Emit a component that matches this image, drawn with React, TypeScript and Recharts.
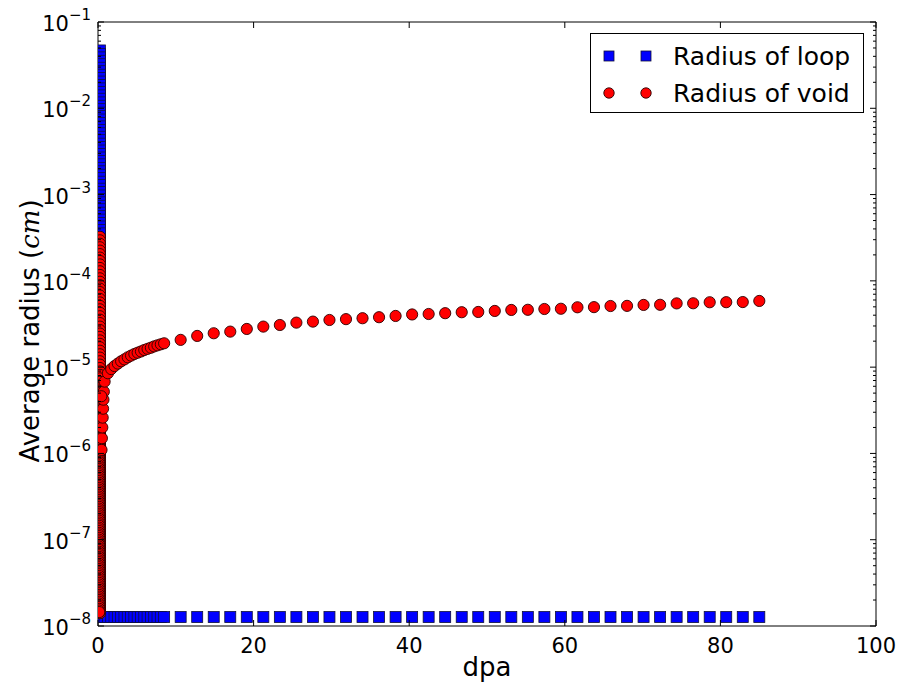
import React from 'react';
import { ScatterChart, Scatter, XAxis, YAxis, Legend, Label } from 'recharts';

// ---- data -------------------------------------------------------------

// Start-up transient recorded at the very beginning of irradiation (dpa ~ 0)
const startDpa = [0.25, 0.15];

const loopColumnRadius = [
  4.68e-2, 4.27e-2, 3.89e-2, 3.55e-2, 3.24e-2, 2.95e-2, 2.69e-2, 2.45e-2, 2.24e-2, 2.04e-2, 1.86e-2, 1.70e-2, 1.55e-2, 1.41e-2, 1.29e-2, 1.17e-2, 1.07e-2,
  9.77e-3, 8.91e-3, 8.13e-3, 7.41e-3, 6.76e-3, 6.17e-3, 5.62e-3, 5.13e-3, 4.68e-3, 4.27e-3, 3.89e-3, 3.55e-3, 3.24e-3, 2.95e-3, 2.69e-3, 2.45e-3, 2.24e-3, 2.04e-3, 1.86e-3, 1.70e-3, 1.55e-3, 1.41e-3, 1.29e-3, 1.17e-3, 1.07e-3,
  9.77e-4, 8.91e-4, 8.13e-4, 7.41e-4, 6.76e-4, 6.17e-4, 5.62e-4, 5.13e-4, 4.68e-4, 4.27e-4, 3.89e-4, 3.55e-4,
  2.51e-4, 2.00e-4, 1.58e-4, 1.26e-4, 1.00e-4,
  7.94e-5, 6.31e-5, 5.01e-5, 3.98e-5, 3.16e-5, 2.51e-5, 2.00e-5, 1.58e-5, 1.26e-5, 1.00e-5,
  7.94e-6, 6.31e-6, 5.01e-6, 3.98e-6, 3.16e-6, 2.51e-6, 2.00e-6, 1.58e-6, 1.26e-6, 1.00e-6,
  7.94e-7, 6.31e-7, 5.01e-7, 3.98e-7, 3.16e-7, 2.51e-7, 2.00e-7, 1.58e-7, 1.26e-7, 1.00e-7,
  7.94e-8, 6.31e-8, 5.01e-8, 3.98e-8, 3.16e-8, 2.51e-8, 2.00e-8, 1.58e-8,
];

const voidColumnRadius = [
  3.24e-4, 2.95e-4, 2.69e-4, 2.45e-4, 2.24e-4, 2.04e-4, 1.86e-4, 1.70e-4, 1.55e-4, 1.41e-4, 1.29e-4, 1.17e-4, 1.07e-4,
  9.77e-5, 8.91e-5, 8.13e-5, 7.41e-5, 6.76e-5, 6.17e-5, 5.62e-5, 5.13e-5, 4.68e-5, 4.27e-5, 3.89e-5, 3.55e-5, 3.24e-5, 2.95e-5, 2.69e-5, 2.45e-5, 2.24e-5, 2.04e-5, 1.86e-5, 1.70e-5, 1.55e-5, 1.41e-5, 1.29e-5, 1.17e-5, 1.07e-5,
  9.77e-6, 8.91e-6, 8.13e-6, 7.41e-6, 6.76e-6, 6.17e-6, 5.62e-6, 5.13e-6, 4.68e-6, 4.27e-6, 3.89e-6, 3.55e-6, 3.24e-6, 2.95e-6, 2.69e-6, 2.45e-6, 2.24e-6, 2.04e-6, 1.86e-6, 1.70e-6, 1.55e-6, 1.41e-6, 1.29e-6, 1.17e-6, 1.07e-6,
  9.77e-7, 8.91e-7, 8.13e-7, 7.41e-7, 6.76e-7, 6.17e-7, 5.62e-7, 5.13e-7, 4.68e-7, 4.27e-7, 3.89e-7, 3.55e-7, 3.24e-7, 2.95e-7, 2.69e-7, 2.45e-7, 2.24e-7, 2.04e-7, 1.86e-7, 1.70e-7, 1.55e-7, 1.41e-7, 1.29e-7, 1.17e-7, 1.07e-7,
  9.77e-8, 8.91e-8, 8.13e-8, 7.41e-8, 6.76e-8, 6.17e-8, 5.62e-8, 5.13e-8, 4.68e-8, 4.27e-8, 3.89e-8, 3.55e-8, 3.24e-8, 2.95e-8, 2.69e-8, 2.45e-8, 2.24e-8, 2.04e-8, 1.86e-8, 1.70e-8, 1.55e-8, 1.41e-8,
];

// Further passes through the lower part of the start-up transient
const voidColumnLowerRadius = [
  5.89e-6, 5.37e-6, 4.90e-6, 4.47e-6, 4.07e-6, 3.72e-6, 3.39e-6, 3.09e-6, 2.82e-6, 2.57e-6, 2.34e-6, 2.14e-6, 1.95e-6, 1.78e-6, 1.62e-6, 1.48e-6, 1.35e-6, 1.23e-6, 1.12e-6, 1.02e-6,
  9.33e-7, 8.51e-7, 7.76e-7, 7.08e-7, 6.46e-7, 5.89e-7, 5.37e-7, 4.90e-7, 4.47e-7, 4.07e-7, 3.72e-7, 3.39e-7, 3.09e-7, 2.82e-7, 2.57e-7, 2.34e-7, 2.14e-7, 1.95e-7, 1.78e-7, 1.62e-7, 1.48e-7, 1.35e-7, 1.23e-7, 1.12e-7, 1.02e-7,
  9.33e-8, 8.51e-8, 7.76e-8, 7.08e-8, 6.46e-8, 5.89e-8, 5.37e-8, 4.90e-8, 4.47e-8, 4.07e-8, 3.72e-8, 3.39e-8, 3.09e-8, 2.82e-8, 2.57e-8, 2.34e-8, 2.14e-8, 1.95e-8, 1.78e-8, 1.62e-8, 1.48e-8,
];

const voidColumnLateRadius = [
  5.75e-6, 5.50e-6, 5.25e-6, 5.01e-6, 4.79e-6, 4.57e-6, 4.37e-6, 4.17e-6, 3.98e-6, 3.80e-6, 3.63e-6, 3.47e-6, 3.31e-6, 3.16e-6, 3.02e-6, 2.88e-6, 2.75e-6, 2.63e-6, 2.51e-6, 2.40e-6,
  2.29e-6, 2.19e-6, 2.09e-6, 2.00e-6, 1.91e-6, 1.82e-6, 1.74e-6, 1.66e-6, 1.58e-6, 1.51e-6, 1.45e-6, 1.38e-6, 1.32e-6, 1.26e-6, 1.20e-6, 1.15e-6, 1.10e-6, 1.05e-6, 1.00e-6,
  9.55e-7, 9.12e-7, 8.71e-7, 8.32e-7, 7.94e-7, 7.59e-7, 7.24e-7, 6.92e-7, 6.61e-7, 6.31e-7, 6.03e-7, 5.75e-7, 5.50e-7, 5.25e-7, 5.01e-7, 4.79e-7, 4.57e-7, 4.37e-7, 4.17e-7, 3.98e-7,
  3.80e-7, 3.63e-7, 3.47e-7, 3.31e-7, 3.16e-7, 3.02e-7, 2.88e-7, 2.75e-7, 2.63e-7, 2.51e-7, 2.40e-7, 2.29e-7, 2.19e-7, 2.09e-7, 2.00e-7, 1.91e-7, 1.82e-7, 1.74e-7, 1.66e-7, 1.58e-7,
  1.51e-7, 1.45e-7, 1.38e-7, 1.32e-7, 1.26e-7, 1.20e-7, 1.15e-7, 1.10e-7, 1.05e-7, 1.00e-7,
  9.55e-8, 9.12e-8, 8.71e-8, 8.32e-8, 7.94e-8, 7.59e-8, 7.24e-8, 6.92e-8, 6.61e-8, 6.31e-8, 6.03e-8, 5.75e-8, 5.50e-8, 5.25e-8, 5.01e-8, 4.79e-8, 4.57e-8, 4.37e-8, 4.17e-8, 3.98e-8,
  3.80e-8, 3.63e-8, 3.47e-8, 3.31e-8, 3.16e-8, 3.02e-8, 2.88e-8, 2.75e-8, 2.63e-8, 2.51e-8, 2.40e-8, 2.29e-8, 2.19e-8, 2.09e-8, 2.00e-8, 1.91e-8, 1.82e-8, 1.74e-8, 1.66e-8, 1.58e-8,
  1.51e-8, 1.45e-8,
];

// Onset of void growth just after start-up
const voidOnsetDpa = [0.45, 0.5, 0.55, 0.6, 0.65, 0.7, 0.75];
const voidOnsetRadius = [1.1e-6, 1.5e-6, 2.0e-6, 2.6e-6, 3.3e-6, 4.2e-6, 5.2e-6];

// Early, finely sampled output (0 - 8.5 dpa)
const fineDpa = [
  0.425, 0.85, 1.275, 1.7, 2.125, 2.55, 2.975, 3.4, 3.825, 4.25,
  4.675, 5.1, 5.525, 5.95, 6.375, 6.8, 7.225, 7.65, 8.075,
];
const loopFineRadius = [
  1.27e-8, 1.27e-8, 1.27e-8, 1.27e-8, 1.27e-8, 1.27e-8, 1.27e-8, 1.27e-8, 1.27e-8, 1.27e-8,
  1.27e-8, 1.27e-8, 1.27e-8, 1.27e-8, 1.27e-8, 1.27e-8, 1.27e-8, 1.27e-8, 1.27e-8,
];
const voidFineRadius = [
  4.6e-6, 6.8e-6, 8.5e-6, 9.5e-6, 1.03e-5, 1.10e-5, 1.17e-5, 1.23e-5, 1.30e-5, 1.36e-5,
  1.42e-5, 1.47e-5, 1.52e-5, 1.58e-5, 1.63e-5, 1.68e-5, 1.74e-5, 1.79e-5, 1.84e-5,
];

// Regular output every 2.125 dpa (8.5 - 85 dpa)
const coarseDpa = [
  8.5, 10.625, 12.75, 14.875, 17, 19.125, 21.25, 23.375, 25.5, 27.625,
  29.75, 31.875, 34, 36.125, 38.25, 40.375, 42.5, 44.625, 46.75, 48.875,
  51, 53.125, 55.25, 57.375, 59.5, 61.625, 63.75, 65.875, 68, 70.125,
  72.25, 74.375, 76.5, 78.625, 80.75, 82.875, 85,
];
const loopCoarseRadius = [
  1.27e-8, 1.27e-8, 1.27e-8, 1.27e-8, 1.27e-8, 1.27e-8, 1.27e-8, 1.27e-8, 1.27e-8, 1.27e-8,
  1.27e-8, 1.27e-8, 1.27e-8, 1.27e-8, 1.27e-8, 1.27e-8, 1.27e-8, 1.27e-8, 1.27e-8, 1.27e-8,
  1.27e-8, 1.27e-8, 1.27e-8, 1.27e-8, 1.27e-8, 1.27e-8, 1.27e-8, 1.27e-8, 1.27e-8, 1.27e-8,
  1.27e-8, 1.27e-8, 1.27e-8, 1.27e-8, 1.27e-8, 1.27e-8, 1.27e-8,
];
const voidCoarseRadius = [
  1.89e-5, 2.07e-5, 2.30e-5, 2.47e-5, 2.58e-5, 2.77e-5, 2.95e-5, 3.08e-5, 3.28e-5, 3.37e-5,
  3.52e-5, 3.60e-5, 3.69e-5, 3.79e-5, 3.92e-5, 4.08e-5, 4.13e-5, 4.22e-5, 4.33e-5, 4.36e-5,
  4.48e-5, 4.60e-5, 4.62e-5, 4.72e-5, 4.75e-5, 4.94e-5, 4.96e-5, 5.11e-5, 5.13e-5, 5.26e-5,
  5.28e-5, 5.48e-5, 5.50e-5, 5.65e-5, 5.66e-5, 5.68e-5, 5.85e-5,
];

const xTicks = [0, 20, 40, 60, 80, 100];
const decadeExponents = [-8, -7, -6, -5, -4, -3, -2];
const decadeSteps = [1, 2, 3, 4, 5, 6, 7, 8, 9];

// ---- layout -------------------------------------------------------------

const W = 898;
const H = 687;
const PLOT_LEFT = 98;
const PLOT_RIGHT = 876;
const PLOT_TOP = 22;
const PLOT_BOTTOM = 626;
const FONT = '"DejaVu Sans", "Bitstream Vera Sans", sans-serif';

const LOOP_COLOR = '#0000ff';
const VOID_COLOR = '#ff0000';
const LOOP_EDGE = '#10103a';
const VOID_EDGE = '#2a0000';

const yTicks: number[] = [];
decadeExponents.forEach((e) => decadeSteps.forEach((s) => yTicks.push(s * Math.pow(10, e))));
yTicks.push(1e-1);

const pair = (xs: number[], ys: number[]) => ys.map((r, i) => ({ dpa: xs[i], radius: r }));
const atStart = (ys: number[], k = 0) => ys.map((r) => ({ dpa: startDpa[k], radius: r }));

const loopColumn = atStart(loopColumnRadius);
const voidColumn = atStart(voidColumnRadius);
const voidColumnLower = atStart(voidColumnLowerRadius);
const voidColumnLate = atStart(voidColumnLateRadius, 1);
const loopFine = pair(fineDpa, loopFineRadius);
const loopCoarse = pair(coarseDpa, loopCoarseRadius);
const voidOnset = pair(voidOnsetDpa, voidOnsetRadius);
const voidFine = pair(fineDpa, voidFineRadius);
const voidCoarse = pair(coarseDpa, voidCoarseRadius);

const isMajor = (v: number) => {
  const e = Math.floor(Math.log10(v) + 1e-9);
  return Math.abs(v / Math.pow(10, e) - 1) < 1e-6;
};

// ---- marker shapes ------------------------------------------------------

const SQ = 11;
const CR = 5.6;

const SquareMarker = (p: any) => (
  <rect x={p.cx - SQ / 2} y={p.cy - SQ / 2} width={SQ} height={SQ} fill={LOOP_COLOR} stroke={LOOP_EDGE} strokeWidth={0.8} />
);
const CircleMarker = (p: any) => (
  <circle cx={p.cx} cy={p.cy} r={CR} fill={VOID_COLOR} stroke={VOID_EDGE} strokeWidth={0.9} />
);
const NoMarker = () => <g />;

// ---- tick renderers -----------------------------------------------------

const LeftTick = (p: any) => {
  const v = p.payload.value;
  const major = isMajor(v);
  const y = p.y;
  const exp = Math.round(Math.log10(v));
  return (
    <g>
      <line x1={PLOT_LEFT} x2={PLOT_LEFT + (major ? 6 : 3)} y1={y} y2={y} stroke="#000" strokeWidth={1} />
      {major && (
        <text x={PLOT_LEFT - 7} y={y + 9} textAnchor="end" fontFamily={FONT} fontSize={21} fill="#000">
          10
          <tspan dy={-11} fontSize={15}>{'\u2212' + Math.abs(exp)}</tspan>
        </text>
      )}
    </g>
  );
};

const RightTick = (p: any) => {
  const v = p.payload.value;
  const major = isMajor(v);
  const y = p.y;
  return <line x1={PLOT_RIGHT} x2={PLOT_RIGHT - (major ? 6 : 3)} y1={y} y2={y} stroke="#000" strokeWidth={1} />;
};

const BottomTick = (p: any) => {
  const x = p.x;
  return (
    <g>
      <line x1={x} x2={x} y1={PLOT_BOTTOM} y2={PLOT_BOTTOM - 6} stroke="#000" strokeWidth={1} />
      <text x={x} y={PLOT_BOTTOM + 27} textAnchor="middle" fontFamily={FONT} fontSize={21} fill="#000">
        {p.payload.value}
      </text>
    </g>
  );
};

const TopTick = (p: any) => {
  const x = p.x;
  return <line x1={x} x2={x} y1={PLOT_TOP} y2={PLOT_TOP + 6} stroke="#000" strokeWidth={1} />;
};

// ---- legend -------------------------------------------------------------

const LegendBox = () => (
  <div
    style={{
      width: 274,
      height: 80,
      boxSizing: 'border-box',
      border: '1px solid #000',
      background: '#fff',
    }}
  >
    <svg width={272} height={78} style={{ display: 'block' }}>
      <rect x={13} y={17} width={10} height={10} fill={LOOP_COLOR} stroke={LOOP_EDGE} strokeWidth={0.8} />
      <rect x={50} y={17} width={10} height={10} fill={LOOP_COLOR} stroke={LOOP_EDGE} strokeWidth={0.8} />
      <text x={82} y={31} fontFamily={FONT} fontSize={25} fill="#000">Radius of loop</text>
      <circle cx={18} cy={59} r={5.2} fill={VOID_COLOR} stroke={VOID_EDGE} strokeWidth={0.9} />
      <circle cx={55} cy={59} r={5.2} fill={VOID_COLOR} stroke={VOID_EDGE} strokeWidth={0.9} />
      <text x={82} y={68} fontFamily={FONT} fontSize={25} fill="#000">Radius of void</text>
    </svg>
  </div>
);

// ---- chart --------------------------------------------------------------

export default function App() {
  return (
    <div style={{ position: 'absolute', left: 0, top: 0, width: W, height: H, background: '#fff' }}>
      <ScatterChart width={W} height={H} margin={{ top: PLOT_TOP - 1, right: W - PLOT_RIGHT - 1, bottom: 0, left: 0 }}>
        <XAxis
          xAxisId="main"
          dataKey="dpa"
          type="number"
          domain={[0, 100]}
          ticks={xTicks}
          allowDataOverflow
          height={H - PLOT_BOTTOM}
          tickLine={false}
          tickSize={0}
          axisLine={{ stroke: '#000', strokeWidth: 1 }}
          tick={<BottomTick />}
          interval={0}
        >
          <Label
            content={() => (
              <text x={(PLOT_LEFT + PLOT_RIGHT) / 2} y={676} textAnchor="middle" fontFamily={FONT} fontSize={26} fill="#000">
                dpa
              </text>
            )}
          />
        </XAxis>
        <XAxis
          xAxisId="top"
          orientation="top"
          dataKey="dpa"
          type="number"
          domain={[0, 100]}
          ticks={xTicks}
          allowDataOverflow
          height={1}
          tickLine={false}
          tickSize={0}
          axisLine={{ stroke: '#000', strokeWidth: 1 }}
          tick={<TopTick />}
          interval={0}
        />
        <YAxis
          yAxisId="main"
          dataKey="radius"
          type="number"
          scale="log"
          domain={[1e-8, 1e-1]}
          ticks={yTicks}
          allowDataOverflow
          width={PLOT_LEFT}
          tickLine={false}
          tickSize={0}
          axisLine={{ stroke: '#000', strokeWidth: 1 }}
          tick={<LeftTick />}
          interval={0}
        >
          <Label
            content={() => (
              <text
                transform={`translate(39, ${(PLOT_TOP + PLOT_BOTTOM) / 2 + 7}) rotate(-90)`}
                textAnchor="middle"
                fontFamily={FONT}
                fontSize={26}
                fill="#000"
              >
                Average radius (
                <tspan fontFamily='"DejaVu Serif", serif' fontStyle="italic">cm</tspan>)
              </text>
            )}
          />
        </YAxis>
        <YAxis
          yAxisId="right"
          orientation="right"
          dataKey="radius"
          type="number"
          scale="log"
          domain={[1e-8, 1e-1]}
          ticks={yTicks}
          allowDataOverflow
          width={1}
          tickLine={false}
          tickSize={0}
          axisLine={{ stroke: '#000', strokeWidth: 1 }}
          tick={<RightTick />}
          interval={0}
        />

        {/* binds the top and right frame axes so they are laid out */}
        <Scatter xAxisId="top" yAxisId="right" data={voidCoarse} shape={NoMarker} isAnimationActive={false} />

        <Scatter xAxisId="main" yAxisId="main" data={loopColumn} shape={SquareMarker} isAnimationActive={false} />
        <Scatter xAxisId="main" yAxisId="main" data={loopFine} shape={SquareMarker} isAnimationActive={false} />
        <Scatter xAxisId="main" yAxisId="main" data={loopCoarse} shape={SquareMarker} isAnimationActive={false} />
        <Scatter xAxisId="main" yAxisId="main" data={voidColumn} shape={CircleMarker} isAnimationActive={false} />
        <Scatter xAxisId="main" yAxisId="main" data={voidColumnLower} shape={CircleMarker} isAnimationActive={false} />
        <Scatter xAxisId="main" yAxisId="main" data={voidColumnLate} shape={CircleMarker} isAnimationActive={false} />
        <Scatter xAxisId="main" yAxisId="main" data={voidOnset} shape={CircleMarker} isAnimationActive={false} />
        <Scatter xAxisId="main" yAxisId="main" data={voidFine} shape={CircleMarker} isAnimationActive={false} />
        <Scatter xAxisId="main" yAxisId="main" data={voidCoarse} shape={CircleMarker} isAnimationActive={false} />

        <Legend
          layout="horizontal"
          verticalAlign="middle"
          align="center"
          wrapperStyle={{ top: 33, left: 590, width: 274, height: 80 }}
          content={() => <LegendBox />}
        />
      </ScatterChart>
    </div>
  );
}
